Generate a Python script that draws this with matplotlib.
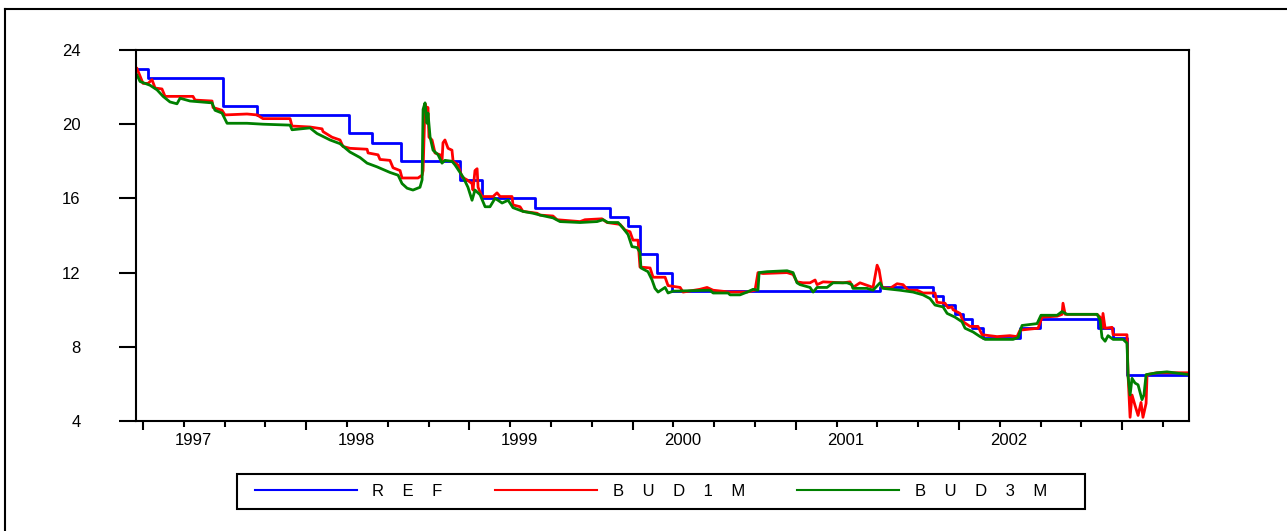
#!/usr/bin/env python3
"""REF vs BUD 1M / BUD 3M rates, 1997-2003 (daily, read off the chart).

Writes:
    out.png
"""

from __future__ import annotations

import matplotlib.pyplot as plt
from matplotlib.lines import Line2D
from matplotlib.patches import Rectangle
from matplotlib.transforms import blended_transform_factory

plt.rcParams["font.family"] = ["Liberation Sans", "DejaVu Sans"]

# --- data (x in decimal years) ---------------------------------------------
REF_T = [1996.963, 1997.031, 1997.490, 1997.699, 1998.262, 1998.403, 1998.581,
         1998.942, 1999.077, 1999.402, 1999.862, 1999.972, 2000.045, 2000.150,
         2000.241, 2001.516, 2001.841, 2001.902, 2001.975, 2002.025, 2002.080,
         2002.147, 2002.374, 2002.496, 2002.852, 2002.944, 2003.029, 2003.409]
REF_V = [23.0, 22.5, 21.0, 20.5, 19.5, 19.0, 18.0,
         17.0, 16.0, 15.5, 15.0, 14.5, 13.0, 12.0,
         11.0, 11.25, 10.75, 10.25, 9.75, 9.5, 9.0,
         8.5, 9.0, 9.5, 9.0, 8.5, 6.5, 6.5]

BUD1M_T = [1996.963, 1997.000, 1997.031, 1997.055, 1997.074, 1997.116, 1997.135,
           1997.306, 1997.319, 1997.423, 1997.429, 1997.484, 1997.502, 1997.637,
           1997.699, 1997.735, 1997.901, 1997.913, 1998.023, 1998.097, 1998.103,
           1998.158, 1998.207, 1998.225, 1998.268, 1998.373, 1998.379, 1998.440,
           1998.452, 1998.513, 1998.532, 1998.575, 1998.587, 1998.685, 1998.710,
           1998.716, 1998.728, 1998.740, 1998.746, 1998.752, 1998.771, 1998.789,
           1998.820, 1998.832, 1998.838, 1998.850, 1998.869, 1998.893, 1998.900,
           1998.930, 1998.955, 1998.985, 1999.016, 1999.022, 1999.034, 1999.047,
           1999.053, 1999.077, 1999.145, 1999.169, 1999.188, 1999.261, 1999.267,
           1999.310, 1999.328, 1999.414, 1999.433, 1999.512, 1999.537, 1999.678,
           1999.708, 1999.812, 1999.843, 1999.923, 1999.953, 1999.984, 2000.002,
           2000.033, 2000.045, 2000.107, 2000.125, 2000.199, 2000.217, 2000.291,
           2000.309, 2000.413, 2000.456, 2000.493, 2000.597, 2000.701, 2000.750,
           2000.768, 2000.799, 2000.946, 2000.983, 2001.007, 2001.044, 2001.087,
           2001.118, 2001.130, 2001.167, 2001.289, 2001.332, 2001.350, 2001.393,
           2001.473, 2001.498, 2001.510, 2001.528, 2001.577, 2001.620, 2001.657,
           2001.688, 2001.743, 2001.779, 2001.853, 2001.865, 2001.914, 2001.933,
           2001.957, 2001.963, 2002.006, 2002.025, 2002.067, 2002.116, 2002.141,
           2002.233, 2002.312, 2002.355, 2002.374, 2002.484, 2002.509, 2002.601,
           2002.631, 2002.637, 2002.650, 2002.846, 2002.864, 2002.876, 2002.882,
           2002.895, 2002.938, 2002.944, 2003.029, 2003.036, 2003.048, 2003.060,
           2003.078, 2003.097, 2003.115, 2003.127, 2003.146, 2003.152, 2003.213,
           2003.293, 2003.409]
BUD1M_V = [23.0, 22.2, 22.2, 22.4, 21.95, 21.9, 21.5,
           21.5, 21.3, 21.25, 20.9, 20.75, 20.5, 20.55,
           20.5, 20.3, 20.3, 19.9, 19.85, 19.75, 19.6,
           19.3, 19.15, 18.8, 18.7, 18.65, 18.45, 18.35,
           18.1, 18.05, 17.65, 17.5, 17.1, 17.1, 17.25,
           17.5, 21.1, 20.8, 20.9, 19.3, 19.15, 18.45,
           18.35, 18.0, 19.0, 19.15, 18.7, 18.6, 18.0,
           17.8, 17.15, 17.0, 16.8, 16.45, 17.5, 17.6,
           16.6, 16.1, 16.1, 16.3, 16.1, 16.1, 15.65,
           15.55, 15.3, 15.2, 15.1, 15.05, 14.85, 14.75,
           14.85, 14.9, 14.7, 14.6, 14.3, 14.2, 13.75,
           13.75, 12.3, 12.25, 11.75, 11.75, 11.3, 11.2,
           10.95, 11.1, 11.2, 11.05, 10.95, 10.95, 11.05,
           12.0, 11.95, 12.0, 11.9, 11.5, 11.45, 11.45,
           11.6, 11.35, 11.5, 11.45, 11.5, 11.2, 11.45,
           11.2, 12.4, 12.15, 11.2, 11.15, 11.4, 11.35,
           11.05, 11.05, 10.9, 10.9, 10.4, 10.35, 10.1,
           10.15, 10.0, 9.8, 9.35, 9.1, 9.1, 8.65,
           8.55, 8.6, 8.55, 8.9, 9.0, 9.6, 9.65,
           9.75, 10.35, 9.75, 9.75, 9.6, 9.0, 9.8,
           9.0, 9.05, 8.65, 8.65, 6.4, 4.2, 5.4,
           4.85, 4.3, 5.0, 4.2, 4.95, 6.5, 6.6,
           6.6, 6.6]

BUD3M_T = [1996.963, 1996.982, 1997.043, 1997.086, 1997.123, 1997.165, 1997.208,
           1997.227, 1997.288, 1997.423, 1997.441, 1997.484, 1997.515, 1997.637,
           1997.735, 1997.901, 1997.913, 1998.023, 1998.066, 1998.146, 1998.207,
           1998.268, 1998.330, 1998.373, 1998.434, 1998.513, 1998.563, 1998.587,
           1998.618, 1998.654, 1998.697, 1998.710, 1998.716, 1998.728, 1998.740,
           1998.746, 1998.759, 1998.777, 1998.808, 1998.832, 1998.850, 1998.893,
           1998.912, 1998.961, 1998.991, 1999.016, 1999.034, 1999.065, 1999.096,
           1999.126, 1999.157, 1999.175, 1999.200, 1999.237, 1999.267, 1999.328,
           1999.390, 1999.433, 1999.512, 1999.555, 1999.678, 1999.782, 1999.819,
           1999.849, 1999.911, 1999.941, 1999.972, 1999.996, 2000.027, 2000.045,
           2000.051, 2000.094, 2000.119, 2000.137, 2000.156, 2000.199, 2000.217,
           2000.248, 2000.474, 2000.493, 2000.585, 2000.597, 2000.658, 2000.701,
           2000.738, 2000.768, 2000.775, 2000.824, 2000.946, 2000.983, 2001.007,
           2001.026, 2001.087, 2001.106, 2001.130, 2001.191, 2001.228, 2001.314,
           2001.344, 2001.350, 2001.436, 2001.473, 2001.516, 2001.534, 2001.638,
           2001.718, 2001.779, 2001.822, 2001.853, 2001.902, 2001.927, 2001.975,
           2002.018, 2002.037, 2002.086, 2002.129, 2002.160, 2002.331, 2002.362,
           2002.386, 2002.478, 2002.502, 2002.601, 2002.631, 2002.662, 2002.846,
           2002.864, 2002.876, 2002.895, 2002.913, 2002.944, 2003.005, 2003.029,
           2003.036, 2003.048, 2003.060, 2003.078, 2003.097, 2003.121, 2003.133,
           2003.146, 2003.213, 2003.274, 2003.409]
BUD3M_V = [22.65, 22.3, 22.1, 21.85, 21.5, 21.2, 21.1,
           21.4, 21.25, 21.15, 20.75, 20.6, 20.05, 20.05,
           20.0, 19.95, 19.7, 19.8, 19.5, 19.15, 18.95,
           18.5, 18.2, 17.9, 17.7, 17.4, 17.25, 16.8,
           16.55, 16.45, 16.6, 17.0, 20.8, 21.15, 20.05,
           20.6, 19.3, 18.6, 18.35, 17.9, 18.05, 18.0,
           17.8, 17.15, 16.6, 15.9, 16.45, 16.2, 15.55,
           15.55, 16.0, 15.9, 15.75, 15.9, 15.5, 15.3,
           15.2, 15.1, 14.95, 14.75, 14.7, 14.75, 14.85,
           14.7, 14.7, 14.4, 14.05, 13.4, 13.35, 13.1,
           12.25, 12.05, 11.6, 11.15, 10.95, 11.2, 10.9,
           11.0, 11.05, 10.9, 10.9, 10.8, 10.8, 10.95,
           11.1, 11.05, 12.0, 12.05, 12.1, 12.0, 11.45,
           11.35, 11.2, 10.95, 11.2, 11.2, 11.45, 11.45,
           11.35, 11.15, 11.15, 11.05, 11.45, 11.15, 11.05,
           10.95, 10.8, 10.6, 10.25, 10.15, 9.8, 9.6,
           9.35, 9.0, 8.8, 8.55, 8.4, 8.4, 8.5,
           9.15, 9.25, 9.7, 9.7, 9.9, 9.75, 9.75,
           9.45, 8.5, 8.3, 8.6, 8.4, 8.4, 8.2,
           6.4, 5.4, 6.3, 6.05, 5.95, 5.15, 5.4,
           6.5, 6.6, 6.65, 6.5]

YEARS = [1997, 1998, 1999, 2000, 2001, 2002]
Y_TICKS = [4, 8, 12, 16, 20, 24]
LABELS = ["R    E    F", "B    U    D    1    M", "B    U    D    3    M"]

X_MIN, X_MAX = 1996.957, 2003.409


def main() -> None:
    fig = plt.figure(figsize=(12.87, 5.31), dpi=100)
    ax = fig.add_axes([136 / 1287, 1 - 421 / 531, 1053 / 1287, 371 / 531])

    l_ref, = ax.step(REF_T, REF_V, where="post", color="#0000ff", lw=2.0)
    l_1m, = ax.plot(BUD1M_T, BUD1M_V, color="#ff0000", lw=2.0)
    l_3m, = ax.plot(BUD3M_T, BUD3M_V, color="#008000", lw=2.0)

    for s in ax.spines.values():
        s.set_linewidth(1.5)

    ax.set_yticks(Y_TICKS)
    ax.tick_params(axis="y", length=12, width=1.5, pad=28, labelsize=12)

    quarters = [y + q / 4 for y in range(1996, 2004) for q in (1, 2, 3)]
    ax.set_xticks(range(1997, 2004))
    ax.set_xticklabels([])
    ax.set_xticks([q for q in quarters if X_MIN < q < X_MAX], minor=True)
    ax.tick_params(axis="x", which="major", length=6.5, width=1.5)
    ax.tick_params(axis="x", which="minor", length=4.3, width=1.5)

    # set limits after ticks, set_xticks would widen them
    ax.set_xlim(X_MIN, X_MAX)
    ax.set_ylim(4, 24)

    trans = blended_transform_factory(ax.transData, ax.transAxes)
    for yr in YEARS:
        ax.text(yr + 0.306, -0.052, str(yr), transform=trans,
                ha="center", va="center", fontsize=12)

    # legend: frame drawn by hand, entries placed from the first handle
    fig.add_artist(Rectangle((237 / 1287, 1 - 509 / 531), 848 / 1287, 35 / 531,
                             transform=fig.transFigure, fill=False,
                             edgecolor="black", lw=1.5))
    leg = fig.legend(
        [l_ref, l_1m, l_3m], LABELS, ncol=3, loc="center left",
        bbox_to_anchor=(255 / 1287, 1 - 491.5 / 531), fontsize=12,
        handlelength=6.1, handletextpad=0.95, columnspacing=3.15,
        borderpad=0, borderaxespad=0, frameon=False,
    )
    for h in leg.legend_handles:
        h.set_linewidth(1.5)

    # outer frame of the exported graph
    fx, fy = 5 / 1287, 1 - 8.5 / 531
    fig.add_artist(Line2D([fx, fx], [0, fy], transform=fig.transFigure,
                          color="black", lw=1.5))
    fig.add_artist(Line2D([fx, 1], [fy, fy], transform=fig.transFigure,
                          color="black", lw=1.5))

    fig.savefig("out.png", dpi=100)


if __name__ == "__main__":
    main()
